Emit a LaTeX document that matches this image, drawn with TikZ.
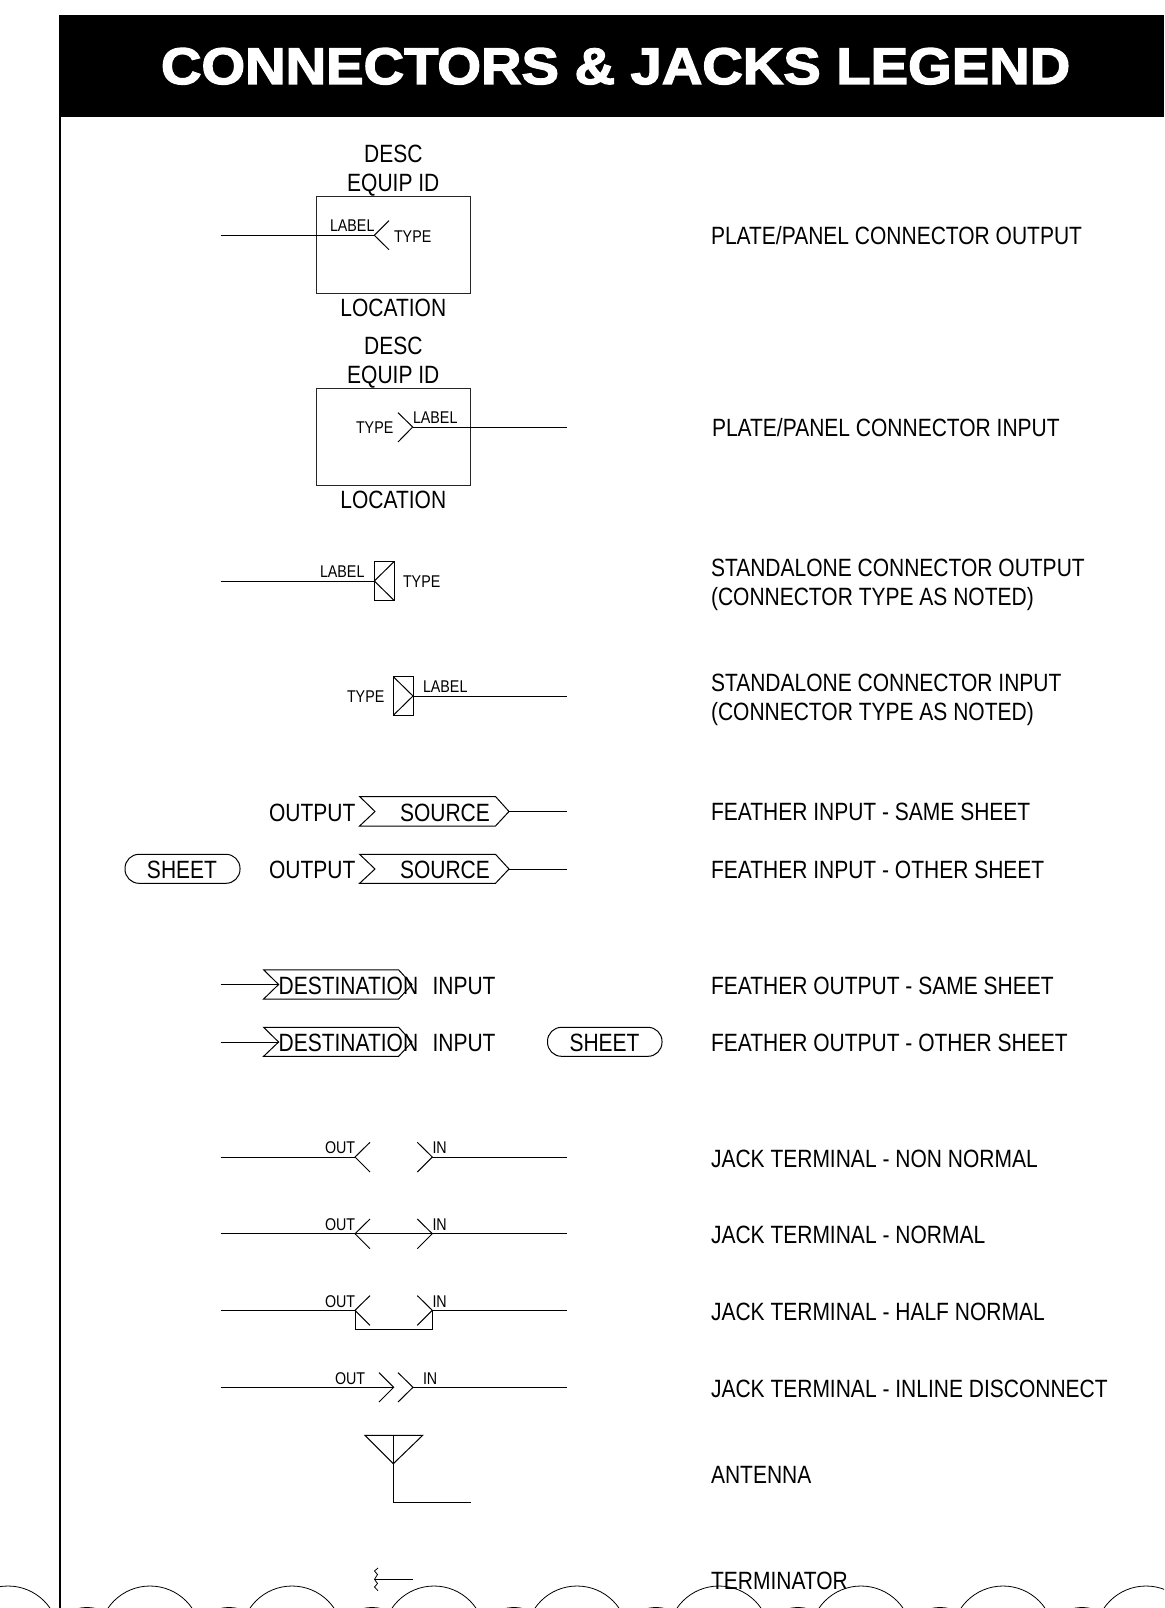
\documentclass[tikz,border=0pt]{standalone}
\usepackage{fontspec}
\usepackage{graphicx}
\setmainfont{Liberation Sans}
\newfontfamily\narrowf[FakeStretch=0.84]{Liberation Sans}
\newfontfamily\titlef[FakeBold=2.5]{Liberation Sans Bold}
\tikzset{
  base/.style={inner sep=0pt,outer sep=0pt,text=black},
  bigt/.style={base,font=\narrowf\fontsize{25}{25}\selectfont},
  smallt/.style={base,font=\narrowf\fontsize{17}{17}\selectfont},
  wire/.style={draw=black,line width=1pt,line join=miter},
  thinw/.style={draw=black!85,line width=0.9pt},
  pill/.style={draw=black,line width=1pt,rounded corners=14pt},
}
\begin{document}
\begin{tikzpicture}[x=1pt,y=-1pt]
\useasboundingbox (0,0) rectangle (1164,1608);
\clip (0,0) rectangle (1164,1608);
\fill[white] (0,0) rectangle (1164,1608);
% header
\fill[black] (59,15) rectangle (1164,117);
\node[base,text=white,anchor=south west] (title) at (161,84.5) {\resizebox{909pt}{36pt}{\titlef CONNECTORS \& JACKS LEGEND}};
\coordinate (railtop) at (59.5,117);
\coordinate (railbot) at (59.5,1608);
\draw[black,line width=2pt] (railtop) -- (railbot);
% plate output
\draw[thinw] (316.7,196.7) rectangle (470,293);
\coordinate (a1) at (220.7,235.3);
\coordinate (a2) at (374.3,235.3);
\draw[wire] (a1) -- (a2);
\draw[wire] (389,220.7) -- (a2) -- (389,249.7);
\node[bigt,anchor=base] (d1) at (393.3,162.5) {DESC};
\node[bigt,anchor=base] (e1) at (393.3,191.5) {EQUIP ID};
\node[bigt,anchor=base] (l1) at (393.3,316.7) {LOCATION};
\node[smallt,anchor=base west] (lb1) at (330,231.5) {LABEL};
\node[smallt,anchor=base west] (t1) at (394,242) {TYPE};
% plate input
\draw[thinw] (316.7,388.7) rectangle (470,485);
\coordinate (b1) at (412.7,427);
\coordinate (b2) at (566.7,427);
\draw[wire] (b1) -- (b2);
\draw[wire] (398,412.7) -- (b1) -- (398,442);
\node[bigt,anchor=base] (d2) at (393.3,354.5) {DESC};
\node[bigt,anchor=base] (e2) at (393.3,383) {EQUIP ID};
\node[bigt,anchor=base] (l2) at (393.3,508.5) {LOCATION};
\node[smallt,anchor=base west] (lb2) at (413,423) {LABEL};
\node[smallt,anchor=base west] (t2) at (356,433.5) {TYPE};
% standalone output
\coordinate (c1) at (220.7,581);
\coordinate (c2) at (374.3,581);
\draw[wire] (c1) -- (c2);
\draw[wire] (374.3,561.7) rectangle (394,600.3);
\draw[wire] (394,561.7) -- (c2) -- (394,600.3);
\node[smallt,anchor=base west] (lb3) at (320,577.7) {LABEL};
\node[smallt,anchor=base west] (t3) at (403,587) {TYPE};
% standalone input
\coordinate (f1) at (413,696);
\coordinate (f2) at (566.7,696);
\draw[wire] (f1) -- (f2);
\draw[wire] (393.3,676.7) rectangle (413,715.3);
\draw[wire] (393.3,676.7) -- (f1) -- (393.3,715.3);
\node[smallt,anchor=base west] (lb4) at (423,692.7) {LABEL};
\node[smallt,anchor=base west] (t4) at (347,702) {TYPE};
% feather inputs
\draw[wire] (359.6,796.5) -- (495.5,796.5) -- (509,811.5) -- (495.5,826) -- (359.6,826) -- (375,811.5) -- cycle;
\coordinate (g1) at (509,811.5);
\coordinate (g2) at (567,811.5);
\draw[wire] (g1) -- (g2);
\node[bigt,anchor=base west] (o1) at (269,821) {OUTPUT};
\node[bigt,anchor=base west] (s1) at (400,821) {SOURCE};
\draw[wire] (359.6,854.3) -- (495.5,854.3) -- (509,869) -- (495.5,883.3) -- (359.6,883.3) -- (375,869) -- cycle;
\coordinate (h1) at (509,869);
\coordinate (h2) at (567,869);
\draw[wire] (h1) -- (h2);
\node[bigt,anchor=base west] (o2) at (269,878) {OUTPUT};
\node[bigt,anchor=base west] (s2) at (400,878) {SOURCE};
\draw[pill] (125,854.3) rectangle (240,883.3);
\node[bigt,anchor=base] (sh1) at (182,878) {SHEET};
% feather outputs
\coordinate (i1) at (220.7,984.5);
\coordinate (i2) at (278.6,984.5);
\draw[wire] (i1) -- (i2);
\draw[wire] (263.6,969.8) -- (398.6,969.8) -- (412,984.5) -- (398.6,999) -- (263.6,999) -- (i2) -- cycle;
\node[bigt,anchor=base west] (ds1) at (278.6,994) {DESTINATION};
\node[bigt,anchor=base west] (in1) at (432.5,994) {INPUT};
\coordinate (j1) at (220.7,1042);
\coordinate (j2) at (278.6,1042);
\draw[wire] (j1) -- (j2);
\draw[wire] (263.6,1027.3) -- (398.6,1027.3) -- (412,1042) -- (398.6,1056.3) -- (263.6,1056.3) -- (j2) -- cycle;
\node[bigt,anchor=base west] (ds2) at (278.6,1051) {DESTINATION};
\node[bigt,anchor=base west] (in2) at (432.5,1051) {INPUT};
\draw[pill] (547.5,1027.3) rectangle (662,1056.3);
\node[bigt,anchor=base] (sh2) at (604.5,1051) {SHEET};
% jack non normal
\coordinate (k1) at (220.7,1157); \coordinate (k2) at (355,1157);
\coordinate (k3) at (432.3,1157); \coordinate (k4) at (566.7,1157);
\draw[wire] (k1) -- (k2);
\draw[wire] (370,1142.3) -- (k2) -- (370,1172);
\draw[wire] (417.3,1142.3) -- (k3) -- (417.3,1172);
\draw[wire] (k3) -- (k4);
\node[smallt,anchor=base west] (ko) at (325,1153.5) {OUT};
\node[smallt,anchor=base west] (ki) at (432.5,1153.5) {IN};
% jack normal
\coordinate (m1) at (220.7,1233.7); \coordinate (m2) at (355,1233.7);
\coordinate (m3) at (432.3,1233.7); \coordinate (m4) at (566.7,1233.7);
\draw[wire] (m1) -- (m2) -- (m3) -- (m4);
\draw[wire] (370,1219) -- (m2) -- (370,1248.7);
\draw[wire] (417.3,1219) -- (m3) -- (417.3,1248.7);
\node[smallt,anchor=base west] (mo) at (325,1230.5) {OUT};
\node[smallt,anchor=base west] (mi) at (432.5,1230.5) {IN};
% jack half normal
\coordinate (n1) at (220.7,1310.3); \coordinate (n2) at (355,1310.3);
\coordinate (n3) at (432.3,1310.3); \coordinate (n4) at (566.7,1310.3);
\draw[wire] (n1) -- (n2);
\draw[wire] (n3) -- (n4);
\draw[wire] (370,1295.6) -- (n2) -- (370,1325.3);
\draw[wire] (417.3,1295.6) -- (n3) -- (417.3,1325.3);
\draw[wire] (n2) -- (355,1329.7) -- (432.3,1329.7) -- (n3);
\node[smallt,anchor=base west] (no) at (325,1307) {OUT};
\node[smallt,anchor=base west] (ni) at (432.5,1307) {IN};
% inline disconnect
\coordinate (p1) at (220.7,1387.3); \coordinate (p2) at (393.7,1387.3);
\coordinate (p3) at (413,1387.3); \coordinate (p4) at (566.7,1387.3);
\draw[wire] (p1) -- (p2);
\draw[wire] (p3) -- (p4);
\draw[wire] (379,1372.6) -- (p2) -- (379,1402);
\draw[wire] (398,1372.6) -- (p3) -- (398,1402);
\node[smallt,anchor=base west] (po) at (335,1384) {OUT};
\node[smallt,anchor=base west] (pi) at (423,1384) {IN};
% antenna
\coordinate (q1) at (393.3,1435.3); \coordinate (q2) at (393.3,1502.3); \coordinate (q3) at (470.7,1502.3);
\draw[wire] (365,1435.3) -- (422.7,1435.3) -- (393.3,1463.7) -- cycle;
\draw[wire] (q1) -- (q2) -- (q3);
% terminator
\coordinate (r1) at (374.5,1579.3); \coordinate (r2) at (413,1579.3);
\draw[wire] (r1) -- (r2);
\draw[draw=black,line width=0.8pt] (378,1568) -- (374.5,1571) -- (377.5,1574.5) -- (r1) -- (377.5,1583.5) -- (374.5,1587) -- (378,1590.7);
% right labels
\foreach \nm/\x/\y/\t in {
  ra/711/244.5/{PLATE/PANEL CONNECTOR OUTPUT},
  rb/712/436/{PLATE/PANEL CONNECTOR INPUT},
  rc/711/576/{STANDALONE CONNECTOR OUTPUT},
  rd/711/605/{(CONNECTOR TYPE AS NOTED)},
  re/711/691/{STANDALONE CONNECTOR INPUT},
  rf/711/720/{(CONNECTOR TYPE AS NOTED)},
  rg/711/820.7/{FEATHER INPUT - SAME SHEET},
  rh/711/878/{FEATHER INPUT - OTHER SHEET},
  ri/711/994/{FEATHER OUTPUT - SAME SHEET},
  rj/711/1051/{FEATHER OUTPUT - OTHER SHEET},
  rk/711/1167/{JACK TERMINAL - NON NORMAL},
  rl/711/1243/{JACK TERMINAL - NORMAL},
  rm/711/1320/{JACK TERMINAL - HALF NORMAL},
  rn/711/1397/{JACK TERMINAL - INLINE DISCONNECT},
  ro/711/1483/{ANTENNA},
  rp/711/1589/{TERMINATOR}}
  \node[bigt,anchor=base west] (\nm) at (\x,\y) {\t};
% bottom scallops
\foreach \cx in {8,150,292,434,577,719,861,1003,1146}
  \draw[black,line width=0.8pt] (\cx,1637) circle[radius=51pt];
\foreach \cx in {87,229,372,514,656,798,940,1082}
  \draw[black,line width=0.8pt] (\cx,1647.5) circle[radius=40pt];
\end{tikzpicture}
\end{document}
